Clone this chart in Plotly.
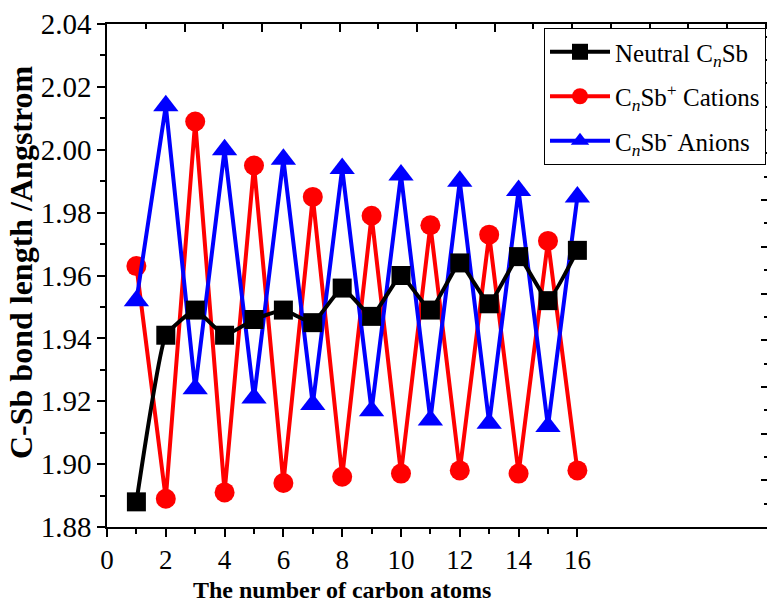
import plotly.graph_objects as go

n_atoms = list(range(1, 17))
neutral = [1.888, 1.941, 1.949, 1.941, 1.946, 1.949, 1.945, 1.956,
           1.947, 1.960, 1.949, 1.964, 1.951, 1.966, 1.952, 1.968]
cations = [1.963, 1.889, 2.009, 1.891, 1.995, 1.894, 1.985, 1.896,
           1.979, 1.897, 1.976, 1.898, 1.973, 1.897, 1.971, 1.898]
anions = [1.952, 2.014, 1.924, 2.000, 1.921, 1.997, 1.919, 1.994,
          1.917, 1.992, 1.914, 1.990, 1.913, 1.987, 1.912, 1.985]

x_ticks = [0, 2, 4, 6, 8, 10, 12, 14, 16]
y_ticks = [1.88, 1.90, 1.92, 1.94, 1.96, 1.98, 2.00, 2.02, 2.04]

FONT = "Liberation Serif"

fig = go.Figure()
fig.add_trace(go.Scatter(
    x=n_atoms, y=cations, mode="lines+markers",
    name="C<sub><i>n</i></sub>Sb<sup>+</sup> Cations", legendrank=2,
    legendgroup="b",
    line=dict(color="#ff0000", width=4),
    marker=dict(symbol="circle", size=20, color="#ff0000")))
fig.add_trace(go.Scatter(
    x=n_atoms, y=anions, mode="lines+markers",
    name="C<sub><i>n</i></sub>Sb<sup>-</sup> Anions", legendrank=3,
    legendgroup="c",
    line=dict(color="#0000ff", width=4),
    marker=dict(symbol="triangle-up", size=22, color="#0000ff")))
fig.add_trace(go.Scatter(
    x=n_atoms, y=neutral, mode="lines+markers",
    name="Neutral C<sub><i>n</i></sub>Sb", legendrank=1,
    legendgroup="a",
    line=dict(color="#000000", width=4, shape="spline", smoothing=0.35),
    marker=dict(symbol="square", size=19, color="#000000")))

# invisible trace to activate secondary axes (top & right tick frames)
fig.add_trace(go.Scatter(x=[0], y=[0], xaxis="x2", yaxis="y2",
                         mode="markers", marker=dict(opacity=0),
                         showlegend=False, hoverinfo="skip"))

L, T, PW, PH = 107, 24, 660, 503

fig.update_layout(
    width=767, height=603,
    margin=dict(l=L, r=0, t=T, b=603 - T - PH),
    paper_bgcolor="white", plot_bgcolor="white",
    font=dict(family=FONT, color="black"),
    showlegend=True,
    legend=dict(
        x=(544 - L) / PW, y=0.992, xanchor="left", yanchor="top",
        bgcolor="white", bordercolor="black", borderwidth=1,
        font=dict(family=FONT, size=25, color="black"),
        itemwidth=60, tracegroupgap=9, traceorder="grouped",
    ),
    xaxis=dict(
        range=[0, 22.45], tickvals=x_ticks, ticktext=[str(v) for v in x_ticks],
        showgrid=False, zeroline=False,
        showline=True, linecolor="black", linewidth=1.5,
        ticks="outside", ticklen=8, tickwidth=1.5, tickcolor="black",
        tickfont=dict(family=FONT, size=27, color="black"),
        minor=dict(tickvals=[1, 3, 5, 7, 9, 11, 13, 15], ticks="outside",
                   ticklen=5, tickwidth=1.5, tickcolor="black", showgrid=False),
    ),
    yaxis=dict(
        range=[1.88, 2.04], tickvals=y_ticks,
        ticktext=["%.2f" % v for v in y_ticks],
        showgrid=False, zeroline=False,
        showline=True, linecolor="black", linewidth=1.5,
        ticks="outside", ticklen=8, tickwidth=1.5, tickcolor="black",
        tickfont=dict(family=FONT, size=29, color="black"),
        minor=dict(dtick=0.01, ticks="outside", ticklen=5, tickwidth=1.5,
                   tickcolor="black", showgrid=False),
    ),
    xaxis2=dict(
        overlaying="x", side="top", range=[0, PW / 77.5],
        dtick=1, tick0=0, showticklabels=False, showgrid=False, zeroline=False,
        showline=True, linecolor="black", linewidth=1.5,
        ticks="inside", ticklen=8, tickwidth=1.5, tickcolor="black",
        minor=dict(dtick=0.5, ticks="inside", ticklen=5, tickwidth=1.5,
                   tickcolor="black", showgrid=False),
    ),
    yaxis2=dict(
        overlaying="y", side="right", range=[0, PH / 46.7],
        dtick=1, tick0=0, showticklabels=False, showgrid=False, zeroline=False,
        showline=False,
        ticks="inside", ticklen=6, tickwidth=1.5, tickcolor="black",
        minor=dict(dtick=0.5, ticks="inside", ticklen=3, tickwidth=1.5,
                   tickcolor="black", showgrid=False),
    ),
    annotations=[
        dict(text="<b>The number of carbon atoms</b>", x=8, xref="x",
             y=1 - (590 - T) / PH, yref="paper", yanchor="middle",
             xanchor="center", showarrow=False,
             font=dict(family=FONT, size=24, color="black")),
        dict(text="<b>C-Sb bond length /Angstrom</b>", x=(21 - L) / PW,
             xref="paper", y=1 - (262 - T) / PH, yref="paper", textangle=-90,
             xanchor="center", yanchor="middle", showarrow=False,
             font=dict(family=FONT, size=32, color="black")),
    ],
)

fig.write_html("out.html")
